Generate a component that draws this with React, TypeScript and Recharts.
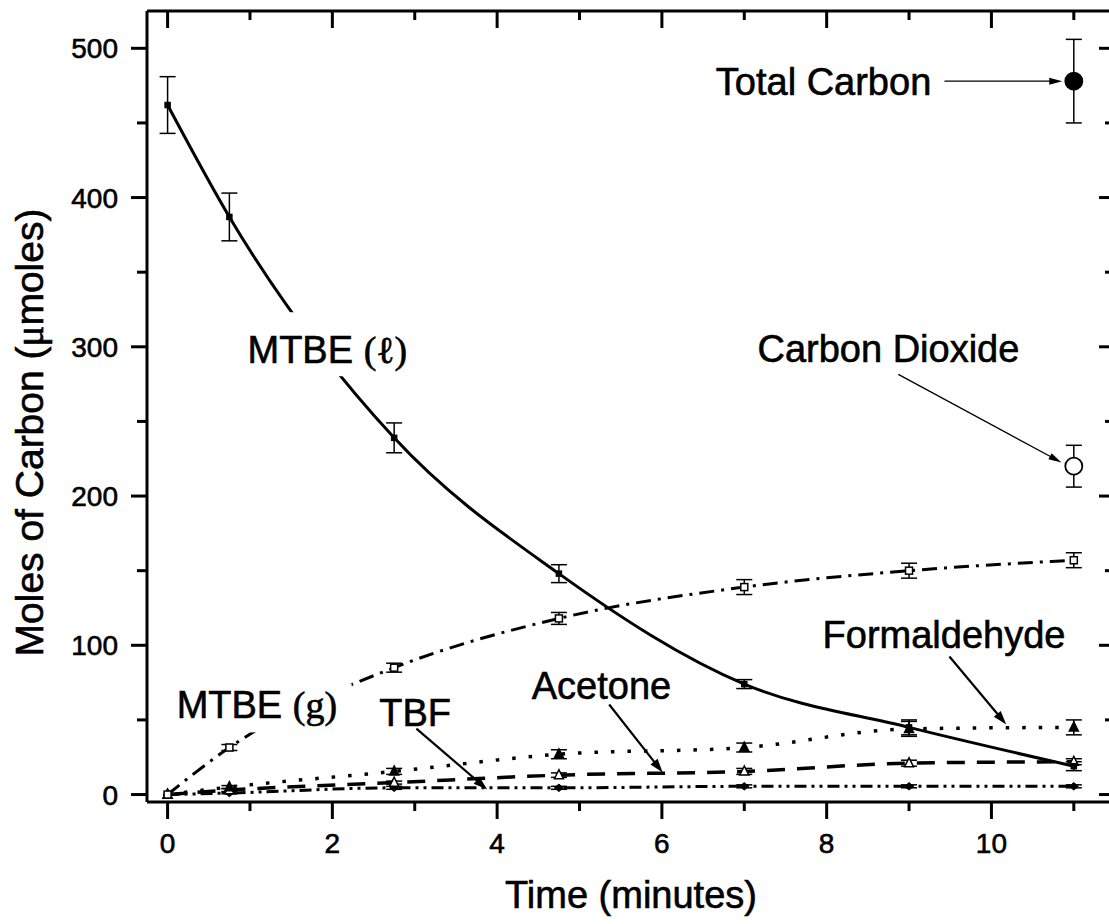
import React from 'react';
import {
  ComposedChart,
  Line,
  XAxis,
  YAxis,
  ErrorBar,
  ReferenceDot,
  ReferenceLine,
} from 'recharts';

// ---------- data ----------
const times = [0, 0.75, 2.75, 4.75, 7, 9, 11];
const mtbeLiquid = [462, 387, 239, 148, 74, 45, 19];
const mtbeLiquidErr = [19, 16, 10, 6, 3, 5, 3];
const mtbeGas = [0, 31.5, 85, 118, 139, 150, 157];
const mtbeGasErr = [0, 2, 3, 4, 5, 5, 5];
const formaldehyde = [0, 5, 15.5, 27, 31.5, 44, 45];
const formaldehydeErr = [0, 1, 2, 3, 3, 5, 5];
const acetone = [0, 3, 8, 13, 15.5, 21, 22];
const acetoneErr = [0, 1, 1, 1.5, 2, 2, 2];
const tbf = [0, 1, 4.5, 4.5, 5.5, 5.5, 5.5];
const tbfErr = [0, 0.5, 1, 1, 1, 1, 1];

const finalTime = [11];
const totalCarbon = [478];
const totalCarbonErr = [28];
const carbonDioxide = [220];
const carbonDioxideErr = [14];

const xTicks = [0, 1, 2, 3, 4, 5, 6, 7, 8, 9, 10, 11];
const yTicks = [0, 50, 100, 150, 200, 250, 300, 350, 400, 450, 500];

const rows = times.map((t, i) => ({
  t,
  mtbeL: mtbeLiquid[i],
  mtbeLErr: mtbeLiquidErr[i],
  mtbeG: mtbeGas[i],
  mtbeGErr: mtbeGasErr[i],
  form: formaldehyde[i],
  formErr: formaldehydeErr[i],
  acet: acetone[i],
  acetErr: acetoneErr[i],
  tbf: tbf[i],
  tbfErr: tbfErr[i],
}));
const totalRows = finalTime.map((t, i) => ({ t, v: totalCarbon[i], e: totalCarbonErr[i] }));
const co2Rows = finalTime.map((t, i) => ({ t, v: carbonDioxide[i], e: carbonDioxideErr[i] }));

// ---------- styling helpers ----------
const FONT = '"Liberation Sans", Arial, Helvetica, sans-serif';
const SERIF = '"Liberation Serif", "DejaVu Serif", "Times New Roman", serif';
const BLACK = '#000';
const TEXT_STROKE = { stroke: BLACK, strokeWidth: 0.6 };

const BottomTick = (p: any) => {
  const { x, y, payload } = p;
  const v = payload.value;
  const major = v % 2 === 0;
  return (
    <g>
      <line x1={x} y1={y} x2={x} y2={y + (major ? 17 : 9)} stroke={BLACK} strokeWidth={3} />
      {major && (
        <text x={x} y={y + 51} textAnchor="middle" fontSize={28} fontFamily={FONT} fill={BLACK} {...TEXT_STROKE}>
          {v}
        </text>
      )}
    </g>
  );
};

const TopTick = (p: any) => {
  const { x, y, payload } = p;
  const major = payload.value % 2 === 0;
  return <line x1={x} y1={y} x2={x} y2={y + (major ? 17 : 9)} stroke={BLACK} strokeWidth={3} />;
};

const LeftTick = (p: any) => {
  const { x, y, payload } = p;
  const v = payload.value;
  const major = v % 100 === 0;
  return (
    <g>
      <line x1={x - (major ? 16 : 10)} y1={y} x2={x} y2={y} stroke={BLACK} strokeWidth={3} />
      {major && (
        <text x={x - 29} y={y + 10} textAnchor="end" fontSize={28} fontFamily={FONT} fill={BLACK} {...TEXT_STROKE}>
          {v}
        </text>
      )}
    </g>
  );
};

const RightTick = (p: any) => {
  const { x, y, payload } = p;
  const major = payload.value % 100 === 0;
  return <line x1={x - (major ? 16 : 10)} y1={y} x2={x} y2={y} stroke={BLACK} strokeWidth={3} />;
};

// markers
const squareDot = (filled: boolean, s: number) => (p: any) => {
  const { cx, cy, index } = p;
  if (cx == null || cy == null) return <g key={`e${index}`} />;
  return (
    <rect key={`s${index}`} x={cx - s / 2} y={cy - s / 2} width={s} height={s}
      fill={filled ? BLACK : '#fff'} stroke={BLACK} strokeWidth={1.5} strokeDasharray="none" />
  );
};
const triDot = (filled: boolean, s: number) => (p: any) => {
  const { cx, cy, index } = p;
  if (cx == null || cy == null) return <g key={`e${index}`} />;
  const pts = `${cx},${cy - s * 0.6} ${cx - s / 2},${cy + s * 0.4} ${cx + s / 2},${cy + s * 0.4}`;
  return <polygon key={`t${index}`} points={pts} fill={filled ? BLACK : '#fff'} stroke={BLACK} strokeWidth={1.5} strokeDasharray="none" />;
};
const diamondDot = (s: number) => (p: any) => {
  const { cx, cy, index } = p;
  if (cx == null || cy == null) return <g key={`e${index}`} />;
  const pts = `${cx},${cy - s / 2.4} ${cx + s / 2},${cy} ${cx},${cy + s / 2.4} ${cx - s / 2},${cy}`;
  return <polygon key={`d${index}`} points={pts} fill={BLACK} stroke={BLACK} strokeWidth={1} strokeDasharray="none" />;
};
const circleDot = (filled: boolean, r: number) => (p: any) => {
  const { cx, cy, index } = p;
  if (cx == null || cy == null) return <g key={`e${index}`} />;
  return <circle key={`c${index}`} cx={cx} cy={cy} r={r} fill={filled ? BLACK : '#fff'} stroke={BLACK} strokeWidth={1.8} strokeDasharray="none" />;
};

// annotation text
const note = (content: React.ReactNode, anchor: 'start' | 'end', bg?: { x: number; y: number; w: number; h: number }) => (p: any) => {
  const { cx, cy } = p;
  if (cx == null || cy == null) return <g />;
  return (
    <g>
      {bg && <rect x={cx + bg.x} y={cy + bg.y} width={bg.w} height={bg.h} fill="#fff" />}
      <text x={cx} y={cy} textAnchor={anchor} fontSize={38} fontFamily={FONT} fill={BLACK} {...TEXT_STROKE}>
        {content}
      </text>
    </g>
  );
};

const arrow = (sw: number, hl: number, hw: number) => (p: any) => {
  const { x1, y1, x2, y2 } = p;
  if ([x1, y1, x2, y2].some((v) => v == null || Number.isNaN(v))) return <g />;
  const dx = x2 - x1;
  const dy = y2 - y1;
  const L = Math.hypot(dx, dy) || 1;
  const ux = dx / L;
  const uy = dy / L;
  const bx = x2 - ux * hl;
  const by = y2 - uy * hl;
  const px = (-uy * hw) / 2;
  const py = (ux * hw) / 2;
  return (
    <g>
      <line x1={x1} y1={y1} x2={bx + ux * 1} y2={by + uy * 1} stroke={BLACK} strokeWidth={sw} />
      <polygon points={`${x2},${y2} ${bx + px},${by + py} ${bx - px},${by - py}`} fill={BLACK} />
    </g>
  );
};

const xTitle = (p: any) => {
  const vb = p && p.viewBox ? p.viewBox : { x: 147, y: 802, width: 968, height: 60 };
  return (
    <text x={vb.x + vb.width / 2} y={vb.y + 106} textAnchor="middle" fontSize={38} fontFamily={FONT} fill={BLACK} {...TEXT_STROKE}>
      Time (minutes)
    </text>
  );
};

const yTitle = (p: any) => {
  const vb = p && p.viewBox ? p.viewBox : { x: 47, y: 11, width: 100, height: 791 };
  const cx = vb.x - 4;
  const cy = vb.y + vb.height / 2 + 26;
  return (
    <text transform={`translate(${cx},${cy}) rotate(-90)`} x={0} y={0} textAnchor="middle" fontSize={39} fontFamily={FONT} fill={BLACK} {...TEXT_STROKE}>
      Moles of Carbon (<tspan fontFamily={SERIF}>μ</tspan>moles)
    </text>
  );
};

const errProps = { stroke: BLACK, strokeWidth: 1.5, width: 8, direction: 'y' as const, isAnimationActive: false };

export default function App() {
  return (
    <div style={{ position: 'absolute', left: 0, top: 0, width: 1109, height: 924, overflow: 'hidden', background: '#fff' }}>
      <ComposedChart width={1130} height={924} data={rows} margin={{ top: 11, right: 15, bottom: 62, left: 47 }}>
        <XAxis
          dataKey="t"
          type="number"
          domain={[-0.25, 11.5]}
          allowDataOverflow
          ticks={xTicks}
          interval={0}
          height={60}
          tickSize={0}
          tickMargin={0}
          tickLine={false}
          tick={BottomTick}
          axisLine={{ stroke: BLACK, strokeWidth: 3 }}
          label={xTitle}
        />
        <XAxis
          xAxisId="top"
          dataKey="t"
          type="number"
          orientation="top"
          mirror
          domain={[-0.25, 11.5]}
          allowDataOverflow
          ticks={xTicks}
          interval={0}
          tickSize={0}
          tickMargin={0}
          tickLine={false}
          tick={TopTick}
          axisLine={{ stroke: BLACK, strokeWidth: 3 }}
        />
        <YAxis
          type="number"
          domain={[-5, 525]}
          allowDataOverflow
          ticks={yTicks}
          interval={0}
          width={100}
          tickSize={0}
          tickMargin={0}
          tickLine={false}
          tick={LeftTick}
          axisLine={{ stroke: BLACK, strokeWidth: 3 }}
          label={yTitle}
        />
        <YAxis
          yAxisId="right"
          type="number"
          orientation="right"
          mirror
          domain={[-5, 525]}
          allowDataOverflow
          ticks={yTicks}
          interval={0}
          tickSize={0}
          tickMargin={0}
          tickLine={false}
          tick={RightTick}
          axisLine={{ stroke: BLACK, strokeWidth: 3 }}
        />

        <Line dataKey="tbf" type="monotone" stroke={BLACK} strokeWidth={3} strokeDasharray="12 5 3 5 3 5"
          dot={diamondDot(9)} activeDot={false} isAnimationActive={false}>
          <ErrorBar dataKey="tbfErr" {...errProps} />
        </Line>
        <Line dataKey="acet" type="monotone" stroke={BLACK} strokeWidth={3.5} strokeDasharray="18 12"
          dot={triDot(false, 9)} activeDot={false} isAnimationActive={false}>
          <ErrorBar dataKey="acetErr" {...errProps} />
        </Line>
        <Line dataKey="form" type="monotone" stroke={BLACK} strokeWidth={3.5} strokeDasharray="3.5 13"
          dot={triDot(true, 9)} activeDot={false} isAnimationActive={false}>
          <ErrorBar dataKey="formErr" {...errProps} />
        </Line>
        <Line dataKey="mtbeG" type="monotone" stroke={BLACK} strokeWidth={3} strokeDasharray="15 7 3 7"
          dot={squareDot(false, 7)} activeDot={false} isAnimationActive={false}>
          <ErrorBar dataKey="mtbeGErr" {...errProps} />
        </Line>
        <Line dataKey="mtbeL" type="monotone" stroke={BLACK} strokeWidth={3}
          dot={squareDot(true, 5)} activeDot={false} isAnimationActive={false}>
          <ErrorBar dataKey="mtbeLErr" {...errProps} />
        </Line>
        <Line data={totalRows} dataKey="v" stroke={BLACK} strokeWidth={0}
          dot={circleDot(true, 8.5)} activeDot={false} isAnimationActive={false}>
          <ErrorBar dataKey="e" {...errProps} />
        </Line>
        <Line data={co2Rows} dataKey="v" stroke={BLACK} strokeWidth={0}
          dot={circleDot(false, 8.5)} activeDot={false} isAnimationActive={false}>
          <ErrorBar dataKey="e" {...errProps} />
        </Line>

        {/* annotations */}
        <ReferenceDot x={0.97} y={289} r={0} ifOverflow="visible"
          shape={note(<>MTBE <tspan fontFamily={SERIF}>(ℓ)</tspan></>, 'start', { x: -8, y: -51, w: 172, h: 64 })} />
        <ReferenceDot x={0.11} y={51} r={0} ifOverflow="visible"
          shape={note(<>MTBE <tspan fontFamily={SERIF}>(g)</tspan></>, 'start', { x: -5, y: -35, w: 180, h: 49 })} />
        <ReferenceDot x={2.57} y={46} r={0} ifOverflow="visible" shape={note('TBF', 'start')} />
        <ReferenceDot x={4.42} y={64} r={0} ifOverflow="visible" shape={note('Acetone', 'start')} />
        <ReferenceDot x={7.95} y={98} r={0} ifOverflow="visible" shape={note('Formaldehyde', 'start')} />
        <ReferenceDot x={7.16} y={289.5} r={0} ifOverflow="visible" shape={note('Carbon Dioxide', 'start')} />
        <ReferenceDot x={9.27} y={468.5} r={0} ifOverflow="visible" shape={note('Total Carbon', 'end')} />

        <ReferenceLine segment={[{ x: 9.43, y: 478 }, { x: 10.86, y: 478 }]} ifOverflow="visible" shape={arrow(1.3, 13, 7)} />
        <ReferenceLine segment={[{ x: 8.87, y: 281.5 }, { x: 10.85, y: 222.5 }]} ifOverflow="visible" shape={arrow(1.3, 13, 7)} />
        <ReferenceLine segment={[{ x: 3.02, y: 44.2 }, { x: 3.88, y: 3.4 }]} ifOverflow="visible" shape={arrow(2.2, 14, 9)} />
        <ReferenceLine segment={[{ x: 5.36, y: 60.3 }, { x: 6.01, y: 14.7 }]} ifOverflow="visible" shape={arrow(2.2, 14, 9)} />
        <ReferenceLine segment={[{ x: 9.49, y: 92.5 }, { x: 10.18, y: 46.9 }]} ifOverflow="visible" shape={arrow(2.2, 14, 9)} />
      </ComposedChart>
    </div>
  );
}
